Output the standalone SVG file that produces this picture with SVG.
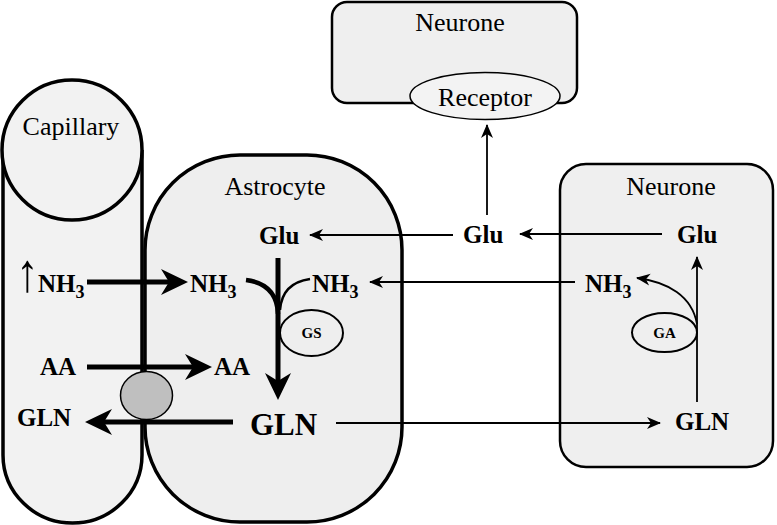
<svg xmlns="http://www.w3.org/2000/svg" width="777" height="525" viewBox="0 0 777 525">
<style>
.lbl{font-family:"Liberation Serif","Times New Roman",serif;font-size:26px;fill:#000}
.b{font-family:"Liberation Serif","Times New Roman",serif;font-weight:bold;font-size:25px;fill:#000}
.sub{font-size:18px}
.up{font-family:"Liberation Serif","Times New Roman",serif;font-weight:bold;font-size:32px;fill:#000}
.enz{font-family:"Liberation Serif","Times New Roman",serif;font-weight:bold;font-size:15px;fill:#000}
.thin{stroke:#000;stroke-width:1.8;fill:none}
.thick{stroke:#000;stroke-width:5;fill:none}
.cell{fill:#efefef;stroke:#000;stroke-width:2.5}
</style>
<defs>
<marker id="ahThin" markerUnits="userSpaceOnUse" markerWidth="14" markerHeight="14" viewBox="0 0 14 14" refX="13" refY="7" orient="auto">
<path d="M0,1 L14,7 L0,13 L4,7 z" fill="#000"/>
</marker>
<marker id="ahThick" markerUnits="userSpaceOnUse" markerWidth="27" markerHeight="28" viewBox="0 0 27 28" refX="17" refY="14" orient="auto">
<path d="M0,1 L27,14 L0,27 L8,14 z" fill="#000"/>
</marker>
</defs>
<rect width="777" height="525" fill="#fff"/>

<g id="capillary">
<path d="M3,150 V455 A69.5,68 0 0 0 142,455 V150" fill="#f2f2f2" stroke="#000" stroke-width="3.5"/>
<circle cx="72" cy="150" r="70" fill="#f2f2f2" stroke="#000" stroke-width="3.5"/>
<text class="lbl" x="71" y="135" text-anchor="middle">Capillary</text>
</g>

<g id="astrocyte">
<rect x="145" y="155" width="257" height="367" rx="95" ry="95" fill="#eeeeee" stroke="#000" stroke-width="3.5"/>
<text class="lbl" x="275" y="195" text-anchor="middle">Astrocyte</text>
</g>

<g id="neurone-top">
<rect x="332" y="2" width="245" height="101" rx="15" ry="15" class="cell"/>
<text class="lbl" x="460" y="31" text-anchor="middle">Neurone</text>
</g>

<g id="receptor">
<ellipse cx="485" cy="96" rx="75" ry="23.5" fill="#f3f3f3" stroke="#000" stroke-width="1.5"/>
<text class="lbl" x="485" y="106" text-anchor="middle">Receptor</text>
</g>

<g id="neurone-right">
<rect x="560" y="164" width="213" height="303" rx="26" ry="26" class="cell"/>
<text class="lbl" x="671" y="195" text-anchor="middle">Neurone</text>
</g>

<g id="connectors">
<line class="thin" x1="453" y1="235" x2="310" y2="235" marker-end="url(#ahThin)"/>
<line class="thin" x1="662" y1="234" x2="520" y2="234" marker-end="url(#ahThin)"/>
<line class="thin" x1="487" y1="215" x2="487" y2="125" marker-end="url(#ahThin)"/>
<line class="thin" x1="575" y1="282" x2="370" y2="282" marker-end="url(#ahThin)"/>
<line class="thin" x1="336" y1="423" x2="660" y2="423" marker-end="url(#ahThin)"/>
<line class="thin" x1="697" y1="402" x2="697" y2="257" marker-end="url(#ahThin)"/>
<path class="thin" d="M697,324 C692,296 668,282 637,278" marker-end="url(#ahThin)"/>
<line class="thick" x1="87" y1="282" x2="178" y2="282" marker-end="url(#ahThick)"/>
<line class="thick" x1="87" y1="367" x2="202" y2="367" marker-end="url(#ahThick)"/>
<line class="thick" x1="233" y1="422" x2="95" y2="422" marker-end="url(#ahThick)"/>
<line class="thick" x1="278" y1="258" x2="278" y2="390" marker-end="url(#ahThick)"/>
<path d="M246,280 Q277,284 278,314" stroke="#000" stroke-width="4.5" fill="none"/>
<path d="M310,279 Q282,283 280,310" stroke="#000" stroke-width="2.5" fill="none"/>
</g>

<g id="transporter">
<ellipse cx="146.5" cy="395.5" rx="26" ry="24" fill="#bfbfbf" stroke="#000" stroke-width="1.5"/>
</g>

<g id="GS">
<ellipse cx="311.5" cy="333" rx="31.5" ry="23" fill="#eeeeee" stroke="#000" stroke-width="2"/>
<text class="enz" x="311.5" y="338" text-anchor="middle">GS</text>
</g>

<g id="GA">
<ellipse cx="664.5" cy="332.5" rx="32.5" ry="19.5" fill="#efefef" stroke="#000" stroke-width="2"/>
<text class="enz" x="664.5" y="338" text-anchor="middle">GA</text>
</g>

<g id="labels">
<text class="up" transform="translate(16,291) scale(1.4,1.7)">↑</text>
<text class="b" x="38" y="292">NH<tspan class="sub" dy="6">3</tspan></text>
<text class="b" x="190" y="292">NH<tspan class="sub" dy="6">3</tspan></text>
<text class="b" x="312" y="292">NH<tspan class="sub" dy="6">3</tspan></text>
<text class="b" x="585" y="292">NH<tspan class="sub" dy="6">3</tspan></text>
<text class="b" x="40" y="375">AA</text>
<text class="b" x="214" y="375">AA</text>
<text class="b" x="17" y="426">GLN</text>
<text class="b" x="250" y="435" style="font-size:31px">GLN</text>
<text class="b" x="675" y="430">GLN</text>
<text class="b" x="259" y="244">Glu</text>
<text class="b" x="463" y="243">Glu</text>
<text class="b" x="677" y="243">Glu</text>
</g>
</svg>
